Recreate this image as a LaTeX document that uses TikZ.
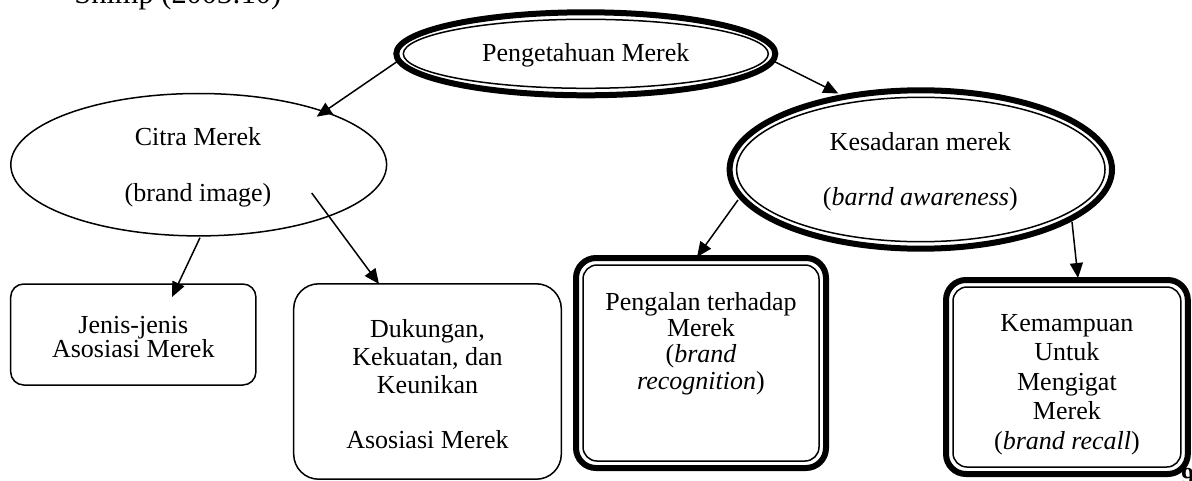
\documentclass[tikz,border=0pt]{standalone}
\usepackage{fontspec}
\setmainfont{Liberation Serif}
\usetikzlibrary{shapes.geometric,arrows.meta,calc}
\begin{document}
\begin{tikzpicture}[x=0.5pt,y=-0.5pt,
  txt/.style={font=\fontsize{13}{13}\selectfont, anchor=base, inner sep=0, outer sep=0},
  thinell/.style={ellipse, draw, line width=0.75pt, inner sep=0, outer sep=0},
  thickell/.style={ellipse, draw, line width=3pt, inner sep=0, outer sep=0},
  thinbox/.style={rectangle, draw, line width=0.75pt, inner sep=0, outer sep=0},
  thickbox/.style={rectangle, draw, line width=3pt, inner sep=0, outer sep=0, rounded corners=10pt},
  innerbox/.style={rectangle, draw, line width=0.75pt, inner sep=0, outer sep=0, rounded corners=7pt},
  conn/.style={line width=0.75pt, -{Triangle[length=7.5pt,width=6.5pt]}}
]
\useasboundingbox (0,0) rectangle (1192,481);

% partly cut caption line at the top
\node[font=\fontsize{15.2}{15.2}\selectfont, anchor=base west, inner sep=0] (src) at (74,4) {Shimp (2003:10)};

% top ellipse
\node[thickell, minimum width=189.5pt, minimum height=41.5pt] (top) at (585.8,53.8) {};
\node[thinell, minimum width=182.5pt, minimum height=34.5pt] (topIn) at (top.center) {};
\node[txt] (topT) at (585.8,61.7) {Pengetahuan Merek};

% Citra Merek ellipse
\node[thinell, minimum width=187.9pt, minimum height=71.2pt] (citra) at (198.7,164.7) {};
\node[txt] (citraT1) at (198,145.7) {Citra Merek};
\node[txt] (citraT2) at (198,201) {(brand image)};

% Kesadaran merek ellipse
\node[thickell, minimum width=191.2pt, minimum height=79.2pt] (kes) at (920.8,169.5) {};
\node[thinell, minimum width=184.2pt, minimum height=72.2pt] (kesIn) at (kes.center) {};
\node[txt] (kesT1) at (920.3,150.7) {Kesadaran merek};
\node[txt] (kesT2) at (920.3,205.7) {(\textit{barnd awareness})};

% Jenis-jenis box
\node[thinbox, rounded corners=6.5pt, minimum width=122.6pt, minimum height=50.5pt] (jenis) at (133.3,334.5) {};
\node[txt] (jenisT1) at (133.3,333) {Jenis-jenis};
\node[txt] (jenisT2) at (133.3,357) {Asosiasi Merek};

% Dukungan box
\node[thinbox, rounded corners=12.5pt, minimum width=133.8pt, minimum height=97.7pt] (duk) at (427.5,381.5) {};
\node[txt] (dukT1) at (427.5,337) {Dukungan,};
\node[txt] (dukT2) at (427.5,365) {Kekuatan, dan};
\node[txt] (dukT3) at (427.5,393) {Keunikan};
\node[txt] (dukT4) at (427.5,448) {Asosiasi Merek};

% Pengalan box
\node[thickbox, minimum width=125pt, minimum height=105pt] (peng) at (701,363) {};
\node[innerbox, minimum width=118pt, minimum height=98pt] (pengIn) at (peng.center) {};
\node[txt] (pengT1) at (701,310) {Pengalan terhadap};
\node[txt] (pengT2) at (701,336) {Merek};
\node[txt] (pengT3) at (701,362) {(\textit{brand}};
\node[txt] (pengT4) at (701,389) {\textit{recognition})};

% Kemampuan box
\node[thickbox, minimum width=120.9pt, minimum height=97pt] (kem) at (1066.9,377) {};
\node[innerbox, minimum width=113.9pt, minimum height=90pt] (kemIn) at (kem.center) {};
\node[txt] (kemT1) at (1066.9,331) {Kemampuan};
\node[txt] (kemT2) at (1066.9,360.5) {Untuk};
\node[txt] (kemT3) at (1066.9,390) {Mengigat};
\node[txt] (kemT4) at (1066.9,419.5) {Merek};
\node[txt] (kemT5) at (1066.9,449) {(\textit{brand recall})};

% page number fragment
\node[font=\fontsize{13}{13}\selectfont\bfseries, anchor=north west, inner sep=0] (pg) at (1181,468) {9};

% connectors
\draw[conn] ($(top.center)+(-189,8)$) -- ($(citra.center)+(118,-48)$);
\draw[conn] ($(top.center)+(189,8)$) -- ($(kes.center)+(-82.5,-76)$);
\draw[conn] ($(citra.center)+(1.3,73)$) -- ($(jenis.center)+(38.7,-37.5)$);
\draw[conn] ($(citra.center)+(113,28.3)$) -- ($(duk.center)+(-48.5,-97.5)$);
\draw[conn] ($(kes.center)+(-182.8,30.5)$) -- ($(peng.center)+(-4,-106)$);
\draw[conn] ($(kes.center)+(151.2,52.5)$) -- ($(kem.center)+(11.1,-99)$);
\end{tikzpicture}
\end{document}
